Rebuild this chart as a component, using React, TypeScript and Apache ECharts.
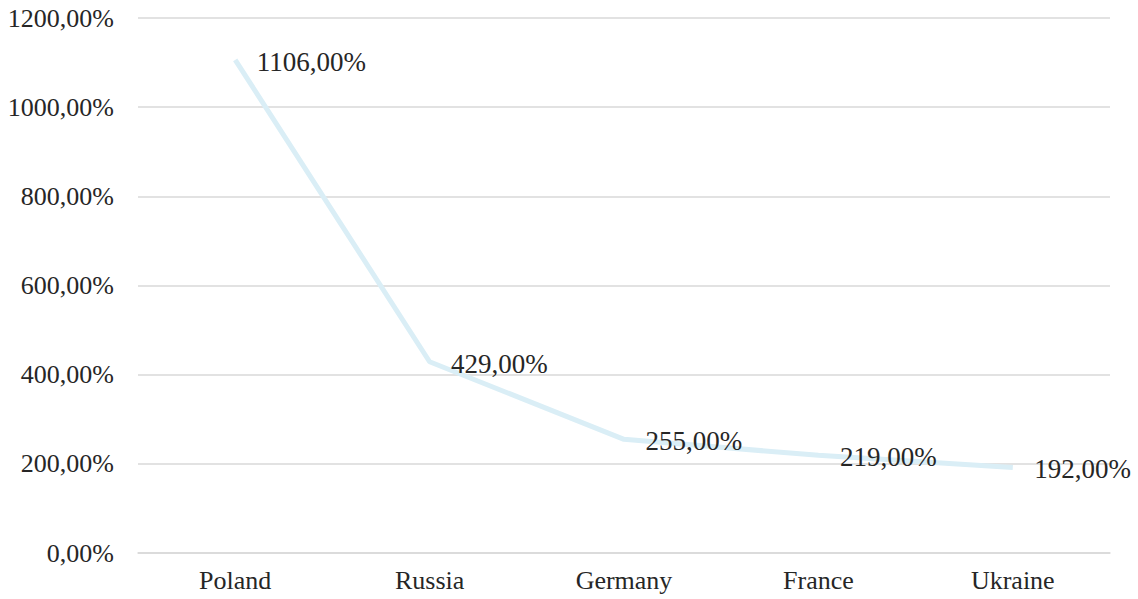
import React, { useEffect, useRef } from "react";
import * as echarts from "echarts";

const categories = ["Poland", "Russia", "Germany", "France", "Ukraine"];
const values = [1106, 429, 255, 219, 192];
const yMin = 0;
const yMax = 1200;
const yInterval = 200;

const fmt = (v: number) => v.toFixed(2).replace(".", ",") + "%";

export default function App() {
  const ref = useRef<HTMLDivElement>(null);
  useEffect(() => {
    if (!ref.current) return;
    const chart = echarts.init(ref.current, undefined, { renderer: "svg" });
    const font = "'Liberation Serif', 'Times New Roman', serif";
    chart.setOption({
      animation: false,
      backgroundColor: "#ffffff",
      grid: { left: 138, right: 28, top: 18, bottom: 46, containLabel: false },
      xAxis: {
        type: "category",
        data: categories,
        boundaryGap: true,
        axisLine: { show: true, lineStyle: { color: "#d9d9d9", width: 1.5 } },
        axisTick: { show: false },
        axisLabel: { color: "#262626", fontFamily: font, fontSize: 26, margin: 14 },
      },
      yAxis: {
        type: "value",
        min: yMin,
        max: yMax,
        interval: yInterval,
        axisLine: { show: false },
        axisTick: { show: false },
        splitLine: { lineStyle: { color: "#d9d9d9", width: 1.5 } },
        axisLabel: {
          color: "#262626",
          fontFamily: font,
          fontSize: 26,
          margin: 24,
          formatter: (v: number) => fmt(v),
        },
      },
      series: [
        {
          type: "line",
          data: values,
          symbol: "circle",
          symbolSize: 1,
          showSymbol: true,
          itemStyle: { color: "rgba(0,0,0,0)" },
          lineStyle: { color: "#daeef6", width: 5 },
          label: {
            show: true,
            position: "right",
            distance: 21,
            offset: [0, 2],
            color: "#262626",
            fontFamily: font,
            fontSize: 27,
            formatter: (p: any) => fmt(p.value),
          },
        },
      ],
    });
    return () => chart.dispose();
  }, []);
  return (
    <div
      ref={ref}
      style={{ position: "fixed", left: 0, top: 0, width: 1138, height: 599 }}
    />
  );
}
